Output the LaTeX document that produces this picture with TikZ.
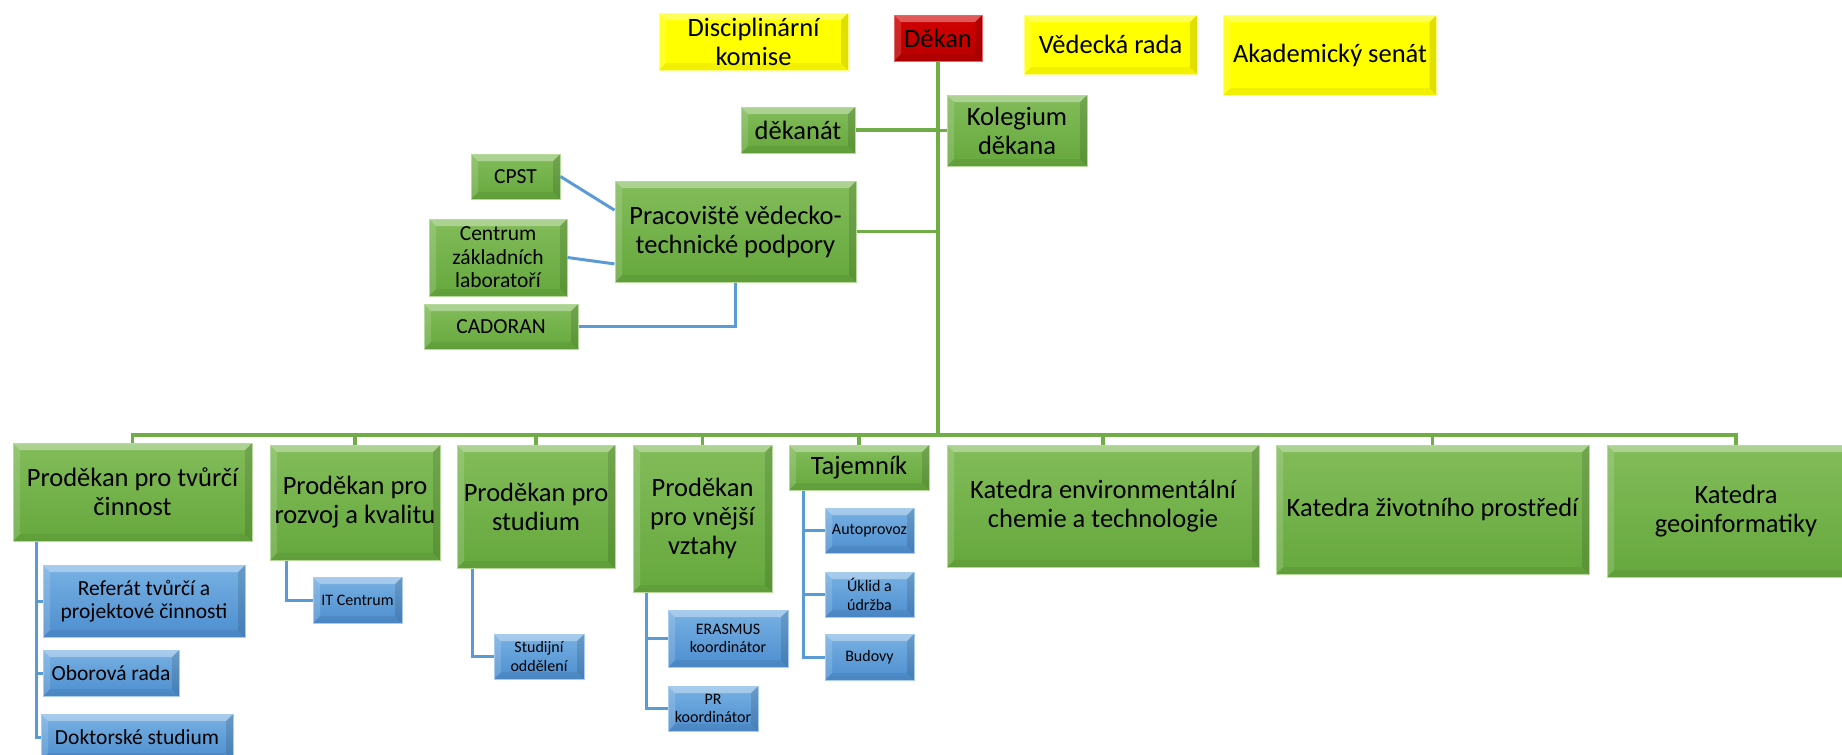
\documentclass[tikz,border=0pt]{standalone}
\usepackage{fontspec}
\setmainfont{Carlito}
\definecolor{gTop}{HTML}{82BC5A}
\definecolor{gBot}{HTML}{66A83D}
\definecolor{gEdge}{HTML}{B5DA9C}
\definecolor{bTop}{HTML}{78B1E3}
\definecolor{bBot}{HTML}{4D8ECF}
\definecolor{bEdge}{HTML}{A8CCEE}
\definecolor{rTop}{HTML}{D20000}
\definecolor{rBot}{HTML}{B80000}
\definecolor{yFill}{HTML}{FFFF00}
\definecolor{yEdge}{HTML}{FFFF80}
\definecolor{lineGreen}{HTML}{70AD47}
\definecolor{lineBlue}{HTML}{5B9BD5}

\begin{document}
\begin{tikzpicture}
  [x=1pt,y=-1pt,
   every node/.style={align=center,inner sep=0pt,text=black},
   wh/.style 2 args={minimum width=#1pt,minimum height=#2pt},
   bevel/.style={path picture={
     \fill[white,opacity=.35] (path picture bounding box.north west) -- (path picture bounding box.north east)
       -- ([shift={(-7pt,-7pt)}]path picture bounding box.north east) -- ([shift={(7pt,-7pt)}]path picture bounding box.north west) -- cycle;
     \fill[white,opacity=.15] (path picture bounding box.north west) -- ([shift={(7pt,-7pt)}]path picture bounding box.north west)
       -- ([shift={(7pt,7pt)}]path picture bounding box.south west) -- (path picture bounding box.south west) -- cycle;
     \fill[black,opacity=.12] (path picture bounding box.north east) -- (path picture bounding box.south east)
       -- ([shift={(-7pt,7pt)}]path picture bounding box.south east) -- ([shift={(-7pt,-7pt)}]path picture bounding box.north east) -- cycle;
     \fill[black,opacity=.06] (path picture bounding box.south west) -- (path picture bounding box.south east)
       -- ([shift={(-7pt,7pt)}]path picture bounding box.south east) -- ([shift={(7pt,7pt)}]path picture bounding box.south west) -- cycle;}},
   unitbox/.style={draw=gEdge,line width=1pt,top color=gTop,bottom color=gBot,bevel},
   subbox/.style={draw=bEdge,line width=1pt,top color=bTop,bottom color=bBot,bevel},
   boardbox/.style={draw=yEdge,line width=1pt,fill=yFill,bevel},
   deanbox/.style={draw=rTop!60!white,line width=1pt,top color=rTop,bottom color=rBot,bevel},
   big/.style={font=\fontsize{26.5}{29}\selectfont},
   mid/.style={font=\fontsize{21.5}{23.5}\selectfont},
   small/.style={font=\fontsize{16}{18.5}\selectfont},
   trunk/.style={draw=lineGreen,line width=3.5pt},
   branch/.style={draw=lineBlue,line width=3pt}]
  \clip (0,0) rectangle (1842,755);

  \node[boardbox,big,wh={189}{57}] (disc) at (753.5,41.5) {Disciplinární\\komise};
  \node[deanbox,big,wh={88}{46}] (dekan) at (938,38) {Děkan};
  \node[boardbox,big,wh={173}{59}] (vedecka) at (1110.5,44.5) {Vědecká rada};
  \node[boardbox,big,wh={213}{80}] (senat) at (1330,55) {Akademický senát};
  \node[unitbox,big,wh={114}{46}] (dekanat) at (798,130) {děkanát};
  \node[unitbox,big,wh={140}{71}] (kolegium) at (1017,130.5) {Kolegium\\děkana};
  \node[unitbox,big,wh={241}{101}] (pracoviste) at (735.5,231.5) {Pracoviště vědecko-\\technické podpory};
  \node[unitbox,mid,wh={89}{45}] (cpst) at (515.5,176.5) {CPST};
  \node[unitbox,mid,wh={138}{77}] (centrum) at (498,257.5) {Centrum\\základních\\laboratoří};
  \node[unitbox,mid,wh={154}{45}] (cadoran) at (501,326.5) {CADORAN};

  \node[unitbox,big,wh={239}{98}] (pdTvorba) at (132.5,492) {Proděkan pro tvůrčí\\činnost};
  \node[unitbox,big,wh={170}{115}] (pdRozvoj) at (355,502.5) {Proděkan pro\\rozvoj a kvalitu};
  \node[unitbox,big,wh={158}{123}] (pdStudium) at (536,506.5) {Proděkan pro\\studium};
  \node[unitbox,big,wh={139}{147}] (pdVnejsi) at (702.5,518.5) {Proděkan\\pro vnější\\vztahy};
  \node[unitbox,big,wh={140}{45}] (tajemnik) at (859,467.5) {Tajemník};
  \node[unitbox,big,wh={312}{122}] (katEnv) at (1103,506) {Katedra environmentální\\chemie a technologie};
  \node[unitbox,big,wh={313}{129}] (katZP) at (1432.5,509.5) {Katedra životního prostředí};
  \node[unitbox,big,wh={258}{132}] (katGeo) at (1736,511) {Katedra\\geoinformatiky};

  \node[subbox,mid,wh={202}{72}] (referat) at (144,601) {Referát tvůrčí a\\projektové činnosti};
  \node[subbox,mid,wh={136}{46}] (oborova) at (111,673) {Oborová rada};
  \node[subbox,mid,wh={192}{46}] (doktorske) at (137,737) {Doktorské studium};
  \node[subbox,small,wh={89}{46}] (itCentrum) at (357.5,600) {IT Centrum};
  \node[subbox,small,wh={90}{45}] (studijni) at (539,656.5) {Studijní\\oddělení};
  \node[subbox,small,wh={120}{57}] (erasmus) at (728,638.5) {ERASMUS\\koordinátor};
  \node[subbox,small,wh={90}{45}] (pr) at (713,708.5) {PR\\koordinátor};
  \node[subbox,small,wh={89}{45}] (autoprovoz) at (869.5,530.5) {Autoprovoz};
  \node[subbox,small,wh={89}{45}] (uklid) at (869.5,594.5) {Úklid a\\údržba};
  \node[subbox,small,wh={89}{46}] (budovy) at (869.5,657) {Budovy};

  \coordinate (bus) at (938,435);
  \draw[trunk] (dekan.south) -- (bus);
  \foreach \n in {pdTvorba,pdRozvoj,pdStudium,pdVnejsi,tajemnik,katEnv,katZP,katGeo}
    \draw[trunk] (bus) -| (\n.north);
  \foreach \n in {dekanat.east,kolegium.west,pracoviste.east}
    \draw[trunk] (\n) -- (\n -| dekan.south);

  \draw[branch] (cpst.east) -- (pracoviste.170);
  \draw[branch] (centrum.east) -- (pracoviste.195);
  \draw[branch] (cadoran.east) -| (pracoviste.south);
  \foreach \n in {referat,oborova,doktorske}
    \draw[branch] ([xshift=24pt]pdTvorba.south west) |- (\n.west);
  \draw[branch] ([xshift=17pt]pdRozvoj.south west) |- (itCentrum.west);
  \draw[branch] ([xshift=16pt]pdStudium.south west) |- (studijni.west);
  \foreach \n in {erasmus,pr}
    \draw[branch] ([xshift=14pt]pdVnejsi.south west) |- (\n.west);
  \foreach \n in {autoprovoz,uklid,budovy}
    \draw[branch] ([xshift=15pt]tajemnik.south west) |- (\n.west);
\end{tikzpicture}
\end{document}
